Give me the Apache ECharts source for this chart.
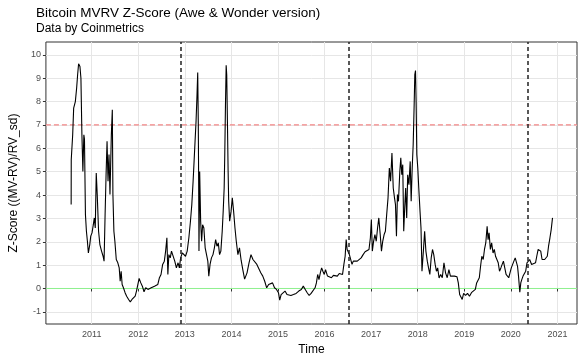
<!DOCTYPE html>
<html>
<head>
<meta charset="utf-8">
<script src="https://cdn.jsdelivr.net/npm/echarts@6/dist/echarts.min.js"></script>
<style>
html,body{margin:0;padding:0;background:#fff;}
#chart{width:585px;height:363px;}
</style>
</head>
<body>
<div id="chart"></div>
<script>
// time as decimal years
const years = [
2010.558,2010.560,2010.591,2010.612,2010.648,2010.676,2010.697,2010.718,2010.747,2010.768,
2010.789,2010.810,2010.831,2010.844,2010.865,2010.886,2010.907,2010.928,2010.958,2010.979,
2011.006,2011.034,2011.055,2011.076,2011.097,2011.118,2011.147,2011.175,2011.211,2011.244,
2011.265,2011.287,2011.308,2011.329,2011.350,2011.371,2011.392,2011.421,2011.442,2011.455,
2011.476,2011.497,2011.527,2011.560,2011.590,2011.611,2011.632,2011.653,2011.681,2011.716,
2011.750,2011.792,2011.828,2011.864,2011.898,2011.933,2011.961,2011.990,2012.018,2012.054,
2012.087,2012.123,2012.159,2012.207,2012.277,2012.348,2012.418,2012.454,2012.488,2012.523,
2012.559,2012.587,2012.614,2012.635,2012.656,2012.686,2012.713,2012.749,2012.783,2012.818,
2012.854,2012.882,2012.909,2012.945,2012.981,2013.014,2013.050,2013.086,2013.120,2013.149,
2013.177,2013.198,2013.219,2013.240,2013.261,2013.276,2013.288,2013.297,2013.303,2013.318,
2013.339,2013.360,2013.381,2013.408,2013.436,2013.465,2013.493,2013.514,2013.541,2013.571,
2013.604,2013.634,2013.661,2013.689,2013.718,2013.745,2013.773,2013.802,2013.823,2013.844,
2013.857,2013.872,2013.887,2013.899,2013.914,2013.929,2013.941,2013.962,2013.992,2014.019,
2014.047,2014.076,2014.104,2014.139,2014.173,2014.209,2014.245,2014.283,2014.335,2014.378,
2014.420,2014.462,2014.504,2014.546,2014.588,2014.630,2014.673,2014.715,2014.757,2014.799,
2014.841,2014.883,2014.925,2014.968,2015.010,2015.037,2015.067,2015.109,2015.151,2015.193,
2015.235,2015.277,2015.332,2015.389,2015.446,2015.501,2015.543,2015.585,2015.627,2015.669,
2015.711,2015.753,2015.796,2015.825,2015.852,2015.880,2015.909,2015.937,2015.964,2015.994,
2016.021,2016.063,2016.105,2016.147,2016.190,2016.232,2016.274,2016.316,2016.358,2016.386,
2016.415,2016.442,2016.464,2016.485,2016.506,2016.533,2016.563,2016.590,2016.617,2016.659,
2016.702,2016.744,2016.786,2016.828,2016.870,2016.912,2016.954,2016.984,2017.005,2017.026,
2017.053,2017.081,2017.110,2017.138,2017.165,2017.195,2017.222,2017.249,2017.279,2017.306,
2017.334,2017.363,2017.391,2017.418,2017.447,2017.475,2017.502,2017.523,2017.544,2017.565,
2017.587,2017.616,2017.637,2017.658,2017.679,2017.700,2017.721,2017.742,2017.764,2017.785,
2017.812,2017.839,2017.860,2017.882,2017.903,2017.924,2017.938,2017.953,2017.966,2017.981,
2018.002,2018.023,2018.050,2018.071,2018.092,2018.122,2018.149,2018.176,2018.206,2018.233,
2018.261,2018.290,2018.318,2018.345,2018.375,2018.402,2018.429,2018.459,2018.493,2018.528,
2018.564,2018.598,2018.634,2018.670,2018.703,2018.739,2018.788,2018.844,2018.872,2018.901,
2018.929,2018.956,2018.986,2019.028,2019.070,2019.112,2019.154,2019.196,2019.238,2019.266,
2019.293,2019.323,2019.350,2019.377,2019.407,2019.434,2019.462,2019.491,2019.512,2019.533,
2019.561,2019.588,2019.618,2019.645,2019.672,2019.702,2019.729,2019.757,2019.786,2019.814,
2019.841,2019.870,2019.898,2019.925,2019.955,2019.982,2020.010,2020.039,2020.066,2020.094,
2020.123,2020.144,2020.165,2020.193,2020.214,2020.235,2020.262,2020.292,2020.319,2020.347,
2020.376,2020.404,2020.446,2020.488,2020.530,2020.557,2020.587,2020.614,2020.642,2020.671,
2020.699,2020.726,2020.755,2020.783,2020.810,2020.840,2020.867,2020.895
];
const zScore = [
3.59,5.51,6.58,7.72,8.00,8.58,9.15,9.62,9.50,9.00,
6.58,5.01,6.58,6.40,3.16,2.45,2.02,1.52,1.88,2.24,
2.38,2.73,3.02,2.59,4.94,4.02,2.45,1.88,1.60,1.38,
1.17,3.16,4.87,6.30,4.59,5.73,4.02,6.58,7.65,4.02,
2.45,2.02,1.24,1.10,0.88,0.31,0.74,0.17,0.03,-0.18,
-0.33,-0.47,-0.57,-0.47,-0.55,-0.33,-0.11,0.17,0.43,0.24,
0.10,-0.14,0.03,-0.04,0.03,0.10,0.17,0.46,0.60,1.03,
1.17,1.60,2.17,0.60,1.45,1.31,1.60,1.52,1.17,0.88,
1.10,0.88,1.31,1.52,1.45,1.38,1.60,2.17,2.88,3.59,
4.59,5.44,6.30,7.15,8.29,9.24,7.15,4.30,1.60,5.01,
2.88,2.02,2.73,2.59,1.74,1.45,1.17,0.53,1.03,1.31,
1.45,1.74,2.09,1.81,1.95,1.45,1.60,2.45,3.30,4.30,
5.73,7.86,9.55,9.15,7.15,5.01,3.73,2.88,3.30,3.88,
3.30,2.59,2.02,1.45,1.74,1.20,0.80,0.40,0.67,1.10,
1.45,1.24,1.31,1.03,1.10,0.67,0.53,0.31,0.03,0.17,
0.10,0.24,0.03,-0.04,-0.18,-0.50,-0.26,-0.33,-0.11,-0.26,
-0.21,-0.30,-0.26,-0.21,-0.11,-0.04,0.10,-0.04,-0.18,-0.30,
-0.21,-0.18,0.03,0.24,0.60,0.38,0.67,0.88,0.74,0.60,
0.81,0.53,0.60,0.46,0.56,0.60,0.53,0.64,0.70,0.60,
1.03,1.38,2.09,1.67,1.60,1.45,1.52,1.03,1.17,1.10,
1.17,1.14,1.31,1.45,1.57,1.60,1.67,2.17,2.95,1.60,
2.02,2.31,2.02,2.59,3.02,2.31,1.60,2.02,2.31,2.45,
3.16,3.88,5.16,4.59,5.80,4.30,3.88,3.59,2.24,4.02,
3.73,5.01,5.59,4.87,5.30,2.45,3.45,4.30,3.02,4.87,
4.44,5.44,3.73,5.16,6.15,7.86,9.15,9.33,8.00,5.73,
5.16,4.30,3.30,2.59,0.74,1.60,2.45,1.60,1.17,0.88,
0.60,1.31,1.67,1.45,1.03,0.74,0.88,0.45,0.60,0.46,
1.10,0.67,0.46,0.81,0.53,0.56,0.53,0.50,0.24,-0.26,
-0.18,-0.47,-0.21,-0.30,-0.21,-0.33,-0.18,-0.16,-0.04,0.24,
0.31,0.46,0.95,1.38,1.24,1.67,1.95,2.66,2.09,2.38,
1.67,1.95,1.52,1.67,1.38,1.45,1.10,0.74,0.88,1.03,
1.17,0.88,0.60,0.53,0.46,0.67,0.88,1.03,1.17,1.31,
1.24,0.95,0.53,-0.16,0.24,0.38,0.53,0.60,0.74,1.10,
1.03,1.24,1.03,1.03,1.10,1.38,1.67,1.74,1.60,1.24,
1.17,1.24,1.31,1.38,1.81,2.17,2.52,3.02
];
const yearTicks = [2011,2012,2013,2014,2015,2016,2017,2018,2019,2020,2021];
const zTicks = [-1,0,1,2,3,4,5,6,7,8,9,10];
const halvings = [2012.909, 2016.520, 2020.358];
const redLevel = 7;
const greenLevel = 0;
const xMin = 2010.016, xMax = 2021.421;

const seriesData = years.map((y, i) => [y, zScore[i]]);

const chart = echarts.init(document.getElementById('chart'), null, {renderer: 'canvas'});
const FONT = 'Liberation Sans, Arial, Helvetica, sans-serif';

function hLine(level, style, z) {
  return {
    type: 'line', data: [[xMin, level], [xMax, level]], z: z, silent: true,
    showSymbol: false, symbol: 'none', clip: false,
    lineStyle: style, emphasis: {disabled: true}
  };
}

chart.setOption({
  animation: false,
  backgroundColor: '#ffffff',
  title: {
    text: 'Bitcoin MVRV Z-Score (Awe & Wonder version)',
    subtext: 'Data by Coinmetrics',
    left: 31, top: 1,
    itemGap: 3,
    textStyle: {fontFamily: FONT, fontSize: 13.5, fontWeight: 'normal', color: '#000'},
    subtextStyle: {fontFamily: FONT, fontSize: 12, color: '#000'}
  },
  grid: {left: 36, right: 8, top: 42, bottom: 39, show: true, borderColor: '#333333', borderWidth: 1, backgroundColor: 'transparent'},
  xAxis: {
    type: 'value', min: xMin, max: xMax,
    name: 'Time', nameLocation: 'middle', nameGap: 16,
    nameTextStyle: {fontFamily: FONT, fontSize: 12, color: '#000'},
    axisLine: {show: false},
    axisTick: {show: true, length: 3, lineStyle: {color: '#333'}, customValues: yearTicks},
    axisLabel: {fontFamily: FONT, fontSize: 9, color: '#4d4d4d', margin: 6, customValues: yearTicks, formatter: v => String(v)},
    splitLine: {show: true, lineStyle: {color: '#e6e6e6', width: 1}}
  },
  yAxis: {
    type: 'value', min: -1.52, max: 10.55,
    name: 'Z-Score ((MV-RV)/RV_sd)', nameLocation: 'middle', nameGap: 17, nameRotate: 90,
    nameTextStyle: {fontFamily: FONT, fontSize: 12, color: '#000'},
    axisLine: {show: false},
    axisTick: {show: true, length: 3, lineStyle: {color: '#333'}, customValues: zTicks},
    axisLabel: {fontFamily: FONT, fontSize: 9, color: '#4d4d4d', margin: 5, customValues: zTicks},
    splitLine: {show: true, lineStyle: {color: '#e6e6e6', width: 1}}
  },
  series: [
    hLine(greenLevel, {color: '#8ef08e', width: 1, type: 'solid'}, 2),
    hLine(redLevel, {color: '#f28585', width: 1.2, type: [5, 3]}, 2),
    {
      type: 'line', data: seriesData, showSymbol: false, symbol: 'none',
      lineStyle: {color: '#000', width: 1.1}, z: 3
    },
    {
      type: 'line', data: [], z: 4,
      markLine: {
        silent: true, symbol: ['none', 'none'], label: {show: false}, animation: false,
        lineStyle: {color: '#222', width: 1.5, type: [4, 3]},
        emphasis: {disabled: true},
        data: halvings.map(h => ({xAxis: h}))
      }
    }
  ]
});
</script>
</body>
</html>
